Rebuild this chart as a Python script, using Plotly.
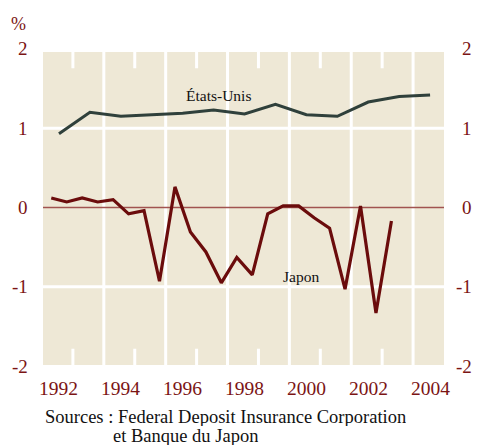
import plotly.graph_objects as go

us_years = [1992, 1993, 1994, 1995, 1996, 1997, 1998, 1999, 2000, 2001, 2002, 2003, 2004]
us_values = [0.93, 1.20, 1.15, 1.17, 1.19, 1.23, 1.18, 1.30, 1.17, 1.15, 1.33, 1.40, 1.42]

jp_periods = [1991.75, 1992.25, 1992.75, 1993.25, 1993.75, 1994.25, 1994.75, 1995.25,
              1995.75, 1996.25, 1996.75, 1997.25, 1997.75, 1998.25, 1998.75, 1999.25,
              1999.75, 2000.25, 2000.75, 2001.25, 2001.75, 2002.25, 2002.75]
jp_values = [0.12, 0.07, 0.12, 0.07, 0.10, -0.08, -0.04, -0.93,
             0.26, -0.31, -0.56, -0.95, -0.63, -0.85, -0.08, 0.02,
             0.02, -0.13, -0.26, -1.03, 0.02, -1.33, -0.17]

x_ticks = [1992, 1994, 1996, 1998, 2000, 2002, 2004]
y_ticks = [2, 1, 0, -1, -2]
grid_x = [1993.45, 1995.45, 1997.45, 1999.45, 2001.45, 2003.45]
short_x = [1992.45, 1994.45, 1996.45, 1998.45, 2000.45, 2002.45]

RED = "#7b1414"
SERIF = "Liberation Serif"
XR = [1991.483, 2004.45]
YR = [-1.986, 1.961]


def ypaper(v):
    return (v - YR[0]) / (YR[1] - YR[0])


fig = go.Figure()
fig.add_trace(go.Scatter(x=us_years, y=us_values, mode="lines",
                         line=dict(color="#2f403b", width=3), hoverinfo="skip"))
fig.add_trace(go.Scatter(x=jp_periods, y=jp_values, mode="lines",
                         line=dict(color="#6b0c0c", width=3.2), hoverinfo="skip"))

shapes = []
for gx in grid_x:
    shapes.append(dict(type="line", xref="x", yref="paper", x0=gx, x1=gx, y0=0, y1=1,
                       line=dict(color="white", width=3), layer="below"))
for sx in short_x:
    shapes.append(dict(type="line", xref="x", yref="paper", x0=sx, x1=sx, y0=0.948, y1=1,
                       line=dict(color="white", width=3), layer="below"))
    shapes.append(dict(type="line", xref="x", yref="paper", x0=sx, x1=sx, y0=0, y1=0.052,
                       line=dict(color="white", width=3), layer="below"))
for gy in [1, -1]:
    shapes.append(dict(type="line", xref="paper", yref="y", x0=0, x1=1, y0=gy, y1=gy,
                       line=dict(color="white", width=3), layer="below"))
shapes.append(dict(type="line", xref="paper", yref="y", x0=0, x1=1, y0=0, y1=0,
                   line=dict(color="#a15350", width=1.5), layer="below"))

annotations = []
for yt in y_ticks:
    annotations.append(dict(x=-0.0324, y=ypaper(yt), xref="paper", yref="paper", text=str(yt),
                            showarrow=False, xanchor="right", yanchor="middle",
                            font=dict(family=SERIF, size=19, color=RED)))
    annotations.append(dict(x=1.0748, y=ypaper(yt), xref="paper", yref="paper", text=str(yt),
                            showarrow=False, xanchor="right", yanchor="middle",
                            font=dict(family=SERIF, size=19, color=RED)))
for xt in x_ticks:
    annotations.append(dict(x=xt, y=-0.0735, xref="x", yref="paper", text=str(xt),
                            showarrow=False, xanchor="center", yanchor="middle",
                            font=dict(family=SERIF, size=19.5, color=RED)))
annotations += [
    dict(x=-0.0623, y=1.0895, xref="paper", yref="paper", text="%", showarrow=False,
         xanchor="center", yanchor="middle", font=dict(family=SERIF, size=18, color=RED)),
    dict(x=1997.17, y=1.41, xref="x", yref="y", text="États-Unis", showarrow=False,
         xanchor="center", yanchor="middle", font=dict(family=SERIF, size=15.5, color="#111")),
    dict(x=1999.83, y=-0.876, xref="x", yref="y", text="Japon", showarrow=False,
         xanchor="center", yanchor="middle", font=dict(family=SERIF, size=15.5, color="#111")),
    dict(x=0, y=-0.164, xref="paper", yref="paper", height=19,
         text="Sources : Federal Deposit Insurance Corporation",
         showarrow=False, xanchor="left", yanchor="middle",
         font=dict(family=SERIF, size=18.5, color="#111")),
    dict(x=0.170, y=-0.2268, xref="paper", yref="paper", height=19,
         text="et Banque du Japon",
         showarrow=False, xanchor="left", yanchor="middle",
         font=dict(family=SERIF, size=18.5, color="#111")),
]

fig.update_layout(
    width=477, height=445,
    margin=dict(l=43, r=33, t=52, b=80),
    paper_bgcolor="white", plot_bgcolor="#eee8d6",
    showlegend=False,
    shapes=shapes, annotations=annotations,
    xaxis=dict(range=XR, showticklabels=False, showgrid=False, zeroline=False,
               showline=False, ticks="", fixedrange=True),
    yaxis=dict(range=YR, showticklabels=False, showgrid=False, zeroline=False,
               showline=False, ticks="", fixedrange=True),
)

fig.write_html(
    "out.html",
    config={"displayModeBar": False, "staticPlot": True},
    post_script="document.body.style.margin='0';document.body.style.overflow='hidden';",
)
